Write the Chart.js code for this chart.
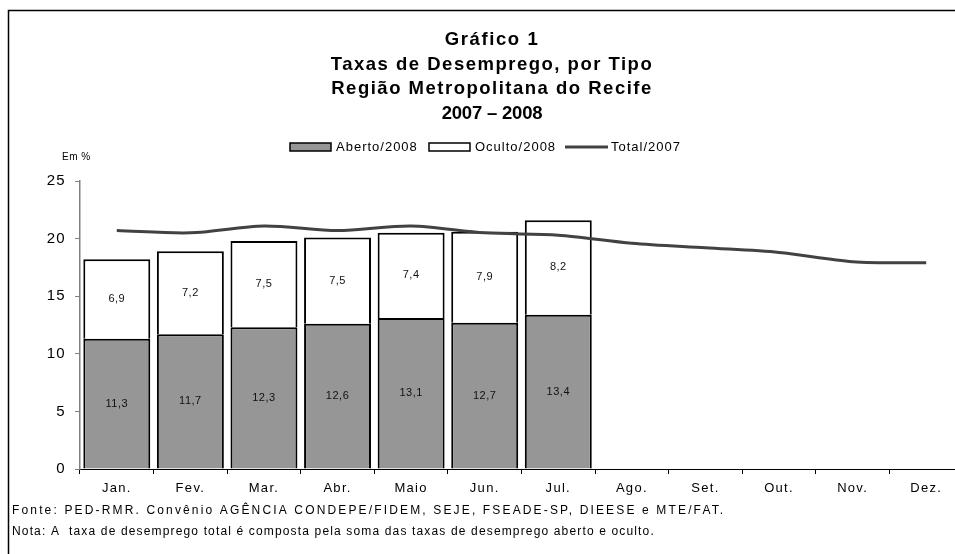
<!DOCTYPE html>
<html>
<head>
<meta charset="utf-8">
<script src="https://cdn.jsdelivr.net/npm/chart.js@4"></script>
<style>
html, body { margin: 0; padding: 0; background: #fff; overflow: hidden; }
canvas { display: block; }
</style>
</head>
<body>
<canvas id="grafico1" width="975" height="554"></canvas>
<script>
// dados -------------------------------------------------------------------------------
const meses = ['Jan.', 'Fev.', 'Mar.', 'Abr.', 'Maio', 'Jun.', 'Jul.', 'Ago.', 'Set.', 'Out.', 'Nov.', 'Dez.'];
const aberto2008 = [11.3, 11.7, 12.3, 12.6, 13.1, 12.7, 13.4];
const oculto2008 = [6.9, 7.2, 7.5, 7.5, 7.4, 7.9, 8.2];
const total2007 = [20.7, 20.5, 21.1, 20.7, 21.1, 20.5, 20.3, 19.6, 19.2, 18.8, 18.0, 17.9];
const yTicks = [0, 5, 10, 15, 20, 25];
const nomesSeries = ['Aberto/2008', 'Oculto/2008', 'Total/2007'];
const titulo = ['Gráfico 1', 'Taxas de Desemprego, por Tipo', 'Região Metropolitana do Recife', '2007 – 2008'];
const unidade = 'Em %';
const notas = [
    'Fonte: PED-RMR. Convênio AGÊNCIA CONDEPE/FIDEM, SEJE, FSEADE-SP, DIEESE e MTE/FAT.',
    'Nota: A  taxa de desemprego total é composta pela soma das taxas de desemprego aberto e oculto.'
];

const fonte = 'Liberation Sans, Arial, sans-serif';
const virgula = v => v.toFixed(1).replace('.', ',');
// espaçamento das letras de cada linha do título e das notas (o original é bem espaçado)
const espTitulo = ['1.6px', '1.5px', '1.5px', '-0.2px'];
const espNotas = ['2.15px', '1.15px'];

// moldura, títulos, legenda e notas
const textos = {
    id: 'textos',
    beforeDraw(chart) {
        const ctx = chart.ctx;
        ctx.save();
        ctx.fillStyle = '#fff';
        ctx.fillRect(0, 0, chart.width, chart.height);
        ctx.strokeStyle = '#000';
        ctx.lineWidth = 1.5;
        ctx.strokeRect(8.5, 10.5, chart.width, chart.height);
        ctx.restore();
        // rótulos dos eixos um pouco espaçados
        ctx.letterSpacing = '1.3px';
    },
    beforeDatasetsDraw(chart) {
        chart.ctx.letterSpacing = '0px';
    },
    afterDraw(chart) {
        const ctx = chart.ctx;
        ctx.save();
        ctx.fillStyle = '#000';
        ctx.textBaseline = 'middle';

        // título
        ctx.textAlign = 'center';
        ctx.font = 'bold 18.5px ' + fonte;
        titulo.forEach((t, i) => {
            ctx.letterSpacing = espTitulo[i];
            ctx.fillText(t, 492, 40 + i * 24.7);
        });

        // legenda
        ctx.letterSpacing = '1px';
        ctx.font = '13px ' + fonte;
        ctx.textAlign = 'left';
        const ds = chart.data.datasets;
        const itens = [
            {x: 290, ds: ds[1], tipo: 'caixa', texto: nomesSeries[0]},
            {x: 429, ds: ds[2], tipo: 'caixa', texto: nomesSeries[1]},
            {x: 565, ds: ds[0], tipo: 'linha', texto: nomesSeries[2]}
        ];
        itens.forEach(it => {
            if (it.tipo === 'caixa') {
                ctx.fillStyle = it.ds.backgroundColor;
                ctx.fillRect(it.x, 143, 41, 8);
                ctx.strokeStyle = '#000';
                ctx.lineWidth = 1.5;
                ctx.strokeRect(it.x, 143, 41, 8);
            } else {
                ctx.strokeStyle = it.ds.borderColor;
                ctx.lineWidth = it.ds.borderWidth;
                ctx.beginPath();
                ctx.moveTo(it.x, 147);
                ctx.lineTo(it.x + 43, 147);
                ctx.stroke();
            }
            ctx.fillStyle = '#000';
            ctx.fillText(it.texto, it.x + 46, 147.5);
        });

        // unidade
        ctx.letterSpacing = '0.5px';
        ctx.font = '10px ' + fonte;
        ctx.fillText(unidade, 62, 157);

        // notas
        ctx.font = '12px ' + fonte;
        notas.forEach((n, i) => {
            ctx.letterSpacing = espNotas[i];
            ctx.fillText(n, 12, 511 + i * 20.5);
        });
        ctx.restore();
    }
};

// rótulos de valor dentro das barras
const rotulos = {
    id: 'rotulos',
    afterDatasetsDraw(chart) {
        const ctx = chart.ctx;
        ctx.save();
        ctx.font = '11px ' + fonte;
        ctx.letterSpacing = '0.5px';
        ctx.fillStyle = '#111';
        ctx.textAlign = 'center';
        ctx.textBaseline = 'middle';
        chart.data.datasets.forEach((d, i) => {
            if (d.type !== 'bar') return;
            chart.getDatasetMeta(i).data.forEach((bar, j) => {
                const v = d.data[j];
                if (v == null) return;
                ctx.fillText(virgula(v), bar.x, (bar.y + bar.base) / 2);
            });
        });
        ctx.restore();
    }
};

const grafico = new Chart(document.getElementById('grafico1'), {
    data: {
        labels: meses,
        datasets: [
            {
                type: 'line',
                label: nomesSeries[2],
                data: total2007,
                stack: 'total',
                order: 0,
                borderColor: '#424242',
                borderWidth: 3,
                tension: 0.3,
                pointRadius: 0,
                fill: false
            },
            {
                type: 'bar',
                label: nomesSeries[0],
                data: aberto2008,
                stack: 'taxa',
                order: 1,
                backgroundColor: '#969696',
                borderColor: '#000',
                borderWidth: 2,
                barPercentage: 0.91,
                categoryPercentage: 1
            },
            {
                type: 'bar',
                label: nomesSeries[1],
                data: oculto2008,
                stack: 'taxa',
                order: 1,
                backgroundColor: '#ffffff',
                borderColor: '#000',
                borderWidth: 2,
                barPercentage: 0.91,
                categoryPercentage: 1
            }
        ]
    },
    options: {
        responsive: false,
        animation: false,
        layout: { padding: { top: 181, left: 0, right: 12, bottom: 0 } },
        plugins: {
            legend: { display: false },
            title: { display: false },
            tooltip: { enabled: false }
        },
        scales: {
            x: {
                stacked: true,
                offset: true,
                afterFit: s => { s.height = 85; },
                grid: { offset: true, drawOnChartArea: false, tickLength: 5, color: '#000', lineWidth: 1 },
                border: { color: '#000', width: 1 },
                ticks: { color: '#000', padding: 7, font: { family: fonte, size: 13 } }
            },
            y: {
                stacked: true,
                min: 0,
                max: 25,
                afterFit: s => { s.width = 80; },
                afterBuildTicks: s => { s.ticks = yTicks.map(v => ({ value: v })); },
                grid: { drawOnChartArea: false, tickLength: 5, color: '#808080', lineWidth: 1 },
                border: { color: '#808080', width: 1.5 },
                ticks: { color: '#000', padding: 9, font: { family: fonte, size: 15 } }
            }
        }
    },
    plugins: [textos, rotulos]
});
</script>
</body>
</html>
